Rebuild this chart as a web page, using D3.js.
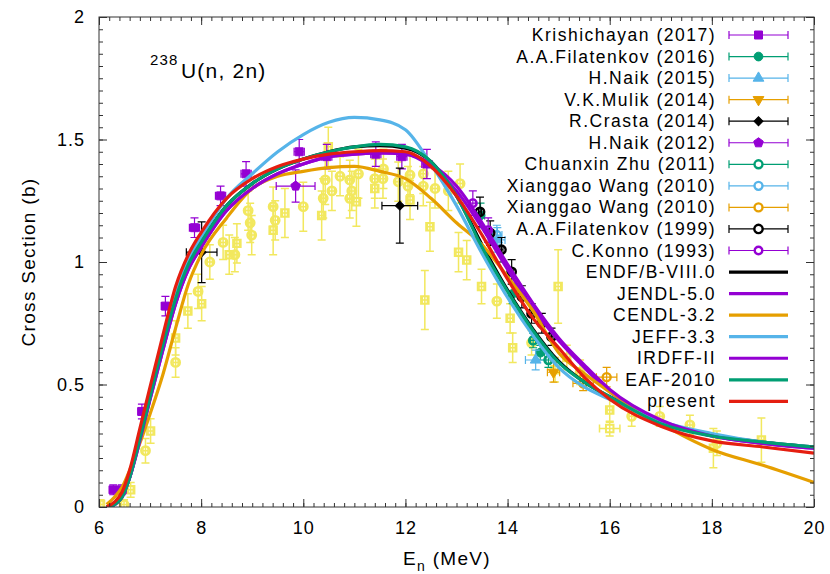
<!DOCTYPE html>
<html>

<head>
    <meta charset="utf-8">
    <style>
        body {
            margin: 0;
            background: #fff;
        }

        svg {
            display: block;
            font-family: 'Liberation Sans', Arial, Helvetica, sans-serif;
        }

        .tick text {
            font-size: 18px;
            fill: #000;
            letter-spacing: 1px;
        }

        .tick line {
            stroke: #333;
        }

        .legend-label {
            font-size: 17.5px;
            letter-spacing: 1.5px;
        }

        .axis-title {
            font-size: 19px;
            letter-spacing: 1.3px;
        }
    </style>
</head>

<body>
    <svg width="830" height="574"></svg>

    <script src="https://d3js.org/d3.v7.min.js"></script>
    <script>

        // evaluated curves, all on the same energy grid (MeV), cross section in barn
        let energyGrid = [6.15, 6.3, 6.45, 6.6, 6.8, 7.0, 7.25, 7.5, 7.75, 8, 8.5, 9, 9.5, 10, 10.5, 11, 11.5, 12, 12.5, 13, 13.5, 14, 14.5, 15, 15.5, 16, 17, 18, 19, 20]
        let endfB8 = [0, 0.01, 0.04, 0.12, 0.28, 0.45, 0.66, 0.85, 0.99, 1.08, 1.23, 1.32, 1.38, 1.42, 1.45, 1.47, 1.475, 1.465, 1.41, 1.27, 1.07, 0.885, 0.725, 0.595, 0.51, 0.45, 0.345, 0.295, 0.265, 0.245]
        let jendl5 = [0, 0.01, 0.04, 0.12, 0.27, 0.44, 0.64, 0.83, 0.97, 1.06, 1.21, 1.30, 1.36, 1.40, 1.43, 1.44, 1.445, 1.44, 1.39, 1.29, 1.14, 0.97, 0.81, 0.68, 0.57, 0.47, 0.35, 0.29, 0.26, 0.24]
        let cendl32 = [0.01, 0.04, 0.08, 0.15, 0.26, 0.38, 0.54, 0.73, 0.91, 1.03, 1.18, 1.30, 1.35, 1.37, 1.385, 1.39, 1.37, 1.34, 1.26, 1.16, 1.07, 0.94, 0.80, 0.63, 0.545, 0.47, 0.34, 0.235, 0.17, 0.10]
        let jeff33 = [0, 0.01, 0.04, 0.12, 0.28, 0.46, 0.67, 0.87, 1.01, 1.10, 1.26, 1.36, 1.45, 1.52, 1.57, 1.59, 1.58, 1.54, 1.40, 1.23, 1.035, 0.855, 0.70, 0.57, 0.49, 0.44, 0.35, 0.30, 0.265, 0.245]
        let irdff2 = [0, 0.01, 0.04, 0.12, 0.27, 0.44, 0.64, 0.83, 0.97, 1.06, 1.21, 1.30, 1.36, 1.40, 1.43, 1.44, 1.445, 1.44, 1.40, 1.31, 1.16, 0.99, 0.83, 0.69, 0.58, 0.48, 0.355, 0.29, 0.26, 0.24]
        let eaf2010 = [0, 0.01, 0.04, 0.12, 0.28, 0.45, 0.66, 0.85, 0.99, 1.08, 1.23, 1.32, 1.38, 1.42, 1.45, 1.47, 1.48, 1.47, 1.41, 1.27, 1.06, 0.88, 0.72, 0.59, 0.51, 0.45, 0.34, 0.29, 0.265, 0.245]
        let present = [0, 0.02, 0.06, 0.15, 0.32, 0.49, 0.70, 0.90, 1.03, 1.12, 1.26, 1.34, 1.39, 1.42, 1.44, 1.45, 1.455, 1.45, 1.39, 1.27, 1.11, 0.93, 0.77, 0.65, 0.53, 0.44, 0.33, 0.27, 0.245, 0.22]

        // measurements: [E, sigma, dE, dSigma]
        let krishichayan2017 = [[6.28, 0.07, 0.08, 0.02], [6.45, 0.07, 0.08, 0.02], [6.84, 0.39, 0.08, 0.03], [7.30, 0.82, 0.08, 0.04], [7.87, 1.14, 0.1, 0.04], [8.38, 1.27, 0.1, 0.04], [8.88, 1.36, 0.1, 0.05], [9.92, 1.45, 0.1, 0.05], [10.46, 1.43, 0.1, 0.05], [11.42, 1.44, 0.1, 0.05], [11.93, 1.43, 0.1, 0.05], [12.42, 1.40, 0.1, 0.06]]
        let filatenkov2016 = [[13.47, 1.19, 0.08, 0.05], [14.1, 0.87, 0.08, 0.04], [14.64, 0.63, 0.08, 0.03]]
        let naik2015 = [[13.8, 1.09, 0.15, 0.05], [14.55, 0.60, 0.2, 0.04]]
        let mulik2014 = [[14.9, 0.55, 0.12, 0.04]]
        let crasta2014 = [[8.01, 1.04, 0.30, 0.124], [11.89, 1.23, 0.35, 0.153]]
        let naik2012 = [[9.85, 1.31, 0.38, 0.066]]
        let zhu2011 = [[14.5, 0.68, 0.05, 0.03], [14.8, 0.60, 0.05, 0.03]]
        let wang2010a = [[13.79, 1.11, 0.1, 0.04]]
        let wang2010b = [[15.48, 0.505, 0.2, 0.03], [15.94, 0.53, 0.2, 0.04]]
        let filatenkov1999 = [[13.46, 1.205, 0.03, 0.06], [13.66, 1.118, 0.03, 0.05], [13.88, 1.05, 0.03, 0.05], [14.08, 0.96, 0.03, 0.05], [14.28, 0.858, 0.03, 0.045], [14.47, 0.79, 0.03, 0.04], [14.67, 0.75, 0.03, 0.04], [14.86, 0.695, 0.03, 0.035]]
        let konno1993 = [[13.32, 1.24, 0.05, 0.05], [13.62, 1.13, 0.05, 0.05]]

        // other EXFOR data shown in the background (no legend entry)
        let otherSquares = [[6.03, 0.01, 0.05, 0.02], [6.62, 0.07, 0.05, 0.03], [7.01, 0.31, 0.05, 0.05], [7.5, 0.69, 0.05, 0.07], [7.74, 0.80, 0.05, 0.07], [8.01, 0.83, 0.05, 0.07], [8.55, 1.03, 0.05, 0.08], [8.70, 1.076, 0.05, 0.08], [9.41, 1.13, 0.05, 0.1], [9.64, 1.20, 0.05, 0.1], [10.36, 1.19, 0.05, 0.1], [10.49, 1.47, 0.05, 0.08], [11.04, 1.246, 0.05, 0.1], [11.4, 1.30, 0.05, 0.08], [12.09, 1.253, 0.05, 0.08], [12.48, 1.144, 0.05, 0.1], [12.38, 0.845, 0.05, 0.12], [13.04, 1.04, 0.05, 0.08], [13.2, 1.008, 0.05, 0.08], [13.49, 0.90, 0.05, 0.07], [14.05, 0.77, 0.05, 0.06], [14.1, 0.65, 0.05, 0.06], [14.99, 0.90, 0.05, 0.15], [14.93, 0.56, 0.05, 0.05], [15.16, 0.61, 0.05, 0.05], [16.0, 0.396, 0.05, 0.05], [16.0, 0.32, 0.2, 0.03], [18.03, 0.24, 0.05, 0.08], [18.97, 0.273, 0.05, 0.09]]
        let otherCircles = [[6.49, 0.01, 0.05, 0.02], [6.91, 0.23, 0.05, 0.05], [7.5, 0.59, 0.05, 0.06], [7.94, 0.88, 0.05, 0.07], [8.17, 1.0, 0.05, 0.07], [8.43, 1.08, 0.05, 0.07], [8.66, 1.03, 0.05, 0.07], [8.92, 1.21, 0.05, 0.08], [8.96, 1.16, 0.05, 0.08], [8.99, 1.11, 0.05, 0.08], [9.41, 1.226, 0.05, 0.08], [9.45, 1.17, 0.05, 0.08], [10.0, 1.226, 0.05, 0.1], [10.43, 1.335, 0.05, 0.1], [10.56, 1.29, 0.05, 0.08], [10.39, 1.26, 0.05, 0.08], [10.72, 1.35, 0.05, 0.08], [10.91, 1.335, 0.05, 0.08], [10.95, 1.29, 0.05, 0.08], [10.91, 1.26, 0.05, 0.08], [11.08, 1.36, 0.05, 0.1], [11.4, 1.34, 0.05, 0.08], [11.57, 1.38, 0.05, 0.08], [11.56, 1.34, 0.05, 0.08], [11.86, 1.328, 0.05, 0.08], [12.09, 1.355, 0.05, 0.08], [12.05, 1.31, 0.05, 0.08], [12.35, 1.36, 0.05, 0.08], [12.35, 1.31, 0.05, 0.08], [12.58, 1.30, 0.05, 0.08], [12.84, 1.29, 0.05, 0.08], [13.07, 1.32, 0.05, 0.08], [13.79, 0.84, 0.05, 0.07], [14.47, 0.67, 0.05, 0.05], [15.42, 0.55, 0.05, 0.05], [16.43, 0.37, 0.05, 0.04], [16.98, 0.37, 0.05, 0.04], [17.57, 0.335, 0.05, 0.04], [18.1, 0.26, 0.05, 0.05]]

        let xTicks = [6, 8, 10, 12, 14, 16, 18, 20]
        let yTicks = [0, 0.5, 1, 1.5, 2]

        let svg = d3.select("svg")

        let margin = { top: 17, right: 16, bottom: 67, left: 99 }
        let width = 830, height = 574

        let x = d3.scaleLinear().domain([6, 20]).range([margin.left, width - margin.right])
        let y = d3.scaleLinear().domain([0, 2]).range([height - margin.bottom, margin.top])

        // gnuplot-like palette
        let purple = "#9400d3", green = "#009e73", blue = "#56b4e9", orange = "#e69f00", red = "#e51e10", yellow = "#f0e442"

        // pentagon marker (d3 has none)
        let symbolPentagon = {
            draw(ctx, size) {
                let r = Math.sqrt(size / 2.378)
                for (let i = 0; i < 5; i++) {
                    let a = -Math.PI / 2 + i * 2 * Math.PI / 5
                    if (i == 0) ctx.moveTo(r * Math.cos(a), r * Math.sin(a))
                    else ctx.lineTo(r * Math.cos(a), r * Math.sin(a))
                }
                ctx.closePath()
            }
        }

        let experiments = [
            { name: "Krishichayan (2017)", data: krishichayan2017, color: purple, type: d3.symbolSquare, size: 64, rot: 0, open: false },
            { name: "A.A.Filatenkov (2016)", data: filatenkov2016, color: green, type: d3.symbolCircle, size: 60, rot: 0, open: false },
            { name: "H.Naik (2015)", data: naik2015, color: blue, type: d3.symbolTriangle, size: 50, rot: 0, open: false },
            { name: "V.K.Mulik (2014)", data: mulik2014, color: orange, type: d3.symbolTriangle, size: 50, rot: 180, open: false },
            { name: "R.Crasta (2014)", data: crasta2014, color: "#000", type: d3.symbolSquare, size: 40, rot: 45, open: false },
            { name: "H.Naik (2012)", data: naik2012, color: purple, type: symbolPentagon, size: 60, rot: 0, open: false },
            { name: "Chuanxin Zhu (2011)", data: zhu2011, color: green, type: d3.symbolCircle, size: 50, rot: 0, open: true },
            { name: "Xianggao Wang (2010)", data: wang2010a, color: blue, type: d3.symbolCircle, size: 50, rot: 0, open: true },
            { name: "Xianggao Wang (2010)", data: wang2010b, color: orange, type: d3.symbolCircle, size: 50, rot: 0, open: true },
            { name: "A.A.Filatenkov (1999)", data: filatenkov1999, color: "#000", type: d3.symbolCircle, size: 55, rot: 0, open: true },
            { name: "C.Konno (1993)", data: konno1993, color: purple, type: d3.symbolCircle, size: 45, rot: 0, open: true }
        ]

        let evaluations = [
            { name: "ENDF/B-VIII.0", values: endfB8, color: "#000" },
            { name: "JENDL-5.0", values: jendl5, color: purple },
            { name: "CENDL-3.2", values: cendl32, color: orange },
            { name: "JEFF-3.3", values: jeff33, color: blue },
            { name: "IRDFF-II", values: irdff2, color: purple },
            { name: "EAF-2010", values: eaf2010, color: green },
            { name: "present", values: present, color: red }
        ]

        svg.append("clipPath").attr("id", "plot-clip")
            .append("rect")
            .attr("x", x(6)).attr("y", y(2))
            .attr("width", x(20) - x(6)).attr("height", y(0) - y(2))

        // error bar path with caps
        let cap = 4
        function errPath(d) {
            let [e, s, de, ds] = d
            let px = x(e), py = y(s)
            let p = `M${px},${y(s - ds)}V${y(s + ds)}M${px - cap},${y(s - ds)}h${2 * cap}M${px - cap},${y(s + ds)}h${2 * cap}`
            if (de > 0) {
                p += `M${x(e - de)},${py}H${x(e + de)}M${x(e - de)},${py - cap}v${2 * cap}M${x(e + de)},${py - cap}v${2 * cap}`
            }
            return p
        }

        let plot = svg.append("g").attr("clip-path", "url(#plot-clip)")

        // background data in yellow
        let others = plot.append("g").attr("opacity", 0.85)
        others.selectAll("path.err-sq")
            .data(otherSquares.concat(otherCircles))
            .join("path")
            .attr("class", "err-sq")
            .attr("d", errPath)
            .attr("fill", "none")
            .attr("stroke", yellow)
            .attr("stroke-width", 1.5)
        others.selectAll("path.sq")
            .data(otherSquares)
            .join("path")
            .attr("class", "sq")
            .attr("transform", d => `translate(${x(d[0])},${y(d[1])})`)
            .attr("d", d3.symbol(d3.symbolSquare, 56))
            .attr("fill", "none")
            .attr("stroke", yellow)
            .attr("stroke-width", 2)
        others.selectAll("path.ci")
            .data(otherCircles)
            .join("path")
            .attr("class", "ci")
            .attr("transform", d => `translate(${x(d[0])},${y(d[1])})`)
            .attr("d", d3.symbol(d3.symbolCircle, 56))
            .attr("fill", "none")
            .attr("stroke", yellow)
            .attr("stroke-width", 2.4)

        // legended measurements
        experiments.forEach(ex => {
            let g = plot.append("g")
            g.selectAll("path.err")
                .data(ex.data)
                .join("path")
                .attr("class", "err")
                .attr("d", errPath)
                .attr("fill", "none")
                .attr("stroke", ex.color)
                .attr("stroke-width", 1.2)
            g.selectAll("path.mark")
                .data(ex.data)
                .join("path")
                .attr("class", "mark")
                .attr("transform", d => `translate(${x(d[0])},${y(d[1])}) rotate(${ex.rot})`)
                .attr("d", d3.symbol(ex.type, ex.size))
                .attr("fill", ex.open ? "none" : ex.color)
                .attr("stroke", ex.color)
                .attr("stroke-width", ex.open ? 2.4 : 1)
        })

        // evaluated curves
        let line = d3.line()
            .x((d, i) => x(energyGrid[i]))
            .y(d => y(d))
            .curve(d3.curveMonotoneX)

        plot.selectAll("path.eval")
            .data(evaluations)
            .join("path")
            .attr("class", "eval")
            .attr("d", d => line(d.values))
            .attr("fill", "none")
            .attr("stroke", d => d.color)
            .attr("stroke-width", 3.2)
            .attr("stroke-linejoin", "round")

        // axes with inward ticks on all four sides
        let xMinor = d3.range(6, 20.01, 0.2)
        let yMinor = d3.range(0, 2.001, 0.05)

        svg.append("g").attr("transform", `translate(0,${y(0)})`)
            .call(d3.axisBottom(x).tickValues(xMinor).tickSize(-4).tickFormat(""))
            .call(g => g.select(".domain").remove())
        svg.append("g").attr("transform", `translate(0,${y(0)})`)
            .call(d3.axisBottom(x).tickValues(xTicks).tickSize(-8).tickPadding(14).tickFormat(d3.format("d")))
            .call(g => g.select(".domain").remove())
        svg.append("g").attr("transform", `translate(0,${y(2)})`)
            .call(d3.axisTop(x).tickValues(xMinor).tickSize(-4).tickFormat(""))
            .call(g => g.select(".domain").remove())
        svg.append("g").attr("transform", `translate(0,${y(2)})`)
            .call(d3.axisTop(x).tickValues(xTicks).tickSize(-8).tickFormat(""))
            .call(g => g.select(".domain").remove())

        svg.append("g").attr("transform", `translate(${x(6)},0)`)
            .call(d3.axisLeft(y).tickValues(yMinor).tickSize(-4).tickFormat(""))
            .call(g => g.select(".domain").remove())
        svg.append("g").attr("transform", `translate(${x(6)},0)`)
            .call(d3.axisLeft(y).tickValues(yTicks).tickSize(-8).tickPadding(14).tickFormat(d => d))
            .call(g => g.select(".domain").remove())
        svg.append("g").attr("transform", `translate(${x(20)},0)`)
            .call(d3.axisRight(y).tickValues(yMinor).tickSize(-4).tickFormat(""))
            .call(g => g.select(".domain").remove())
        svg.append("g").attr("transform", `translate(${x(20)},0)`)
            .call(d3.axisRight(y).tickValues(yTicks).tickSize(-8).tickFormat(""))
            .call(g => g.select(".domain").remove())

        svg.selectAll(".tick line").attr("stroke", "#333")

        // frame
        svg.append("rect")
            .attr("x", x(6)).attr("y", y(2))
            .attr("width", x(20) - x(6)).attr("height", y(0) - y(2))
            .attr("fill", "none")
            .attr("stroke", "#333")
            .attr("stroke-width", 1)

        // axis titles
        let xTitle = svg.append("text")
            .attr("class", "axis-title")
            .attr("x", 403)
            .attr("y", 565)
        xTitle.append("tspan").text("E")
        xTitle.append("tspan").attr("dy", 6).attr("font-size", 14).text("n")
        xTitle.append("tspan").attr("dy", -6).text(" (MeV)")

        svg.append("text")
            .attr("class", "axis-title")
            .attr("transform", `translate(35,${(y(0) + y(2)) / 2}) rotate(-90)`)
            .attr("text-anchor", "middle")
            .text("Cross Section (b)")

        // reaction label
        svg.append("text")
            .attr("x", 150).attr("y", 65)
            .attr("font-size", 15)
            .attr("letter-spacing", 1.2)
            .text("238")
        svg.append("text")
            .attr("x", 181).attr("y", 78)
            .attr("font-size", 21)
            .attr("letter-spacing", 1.2)
            .text("U(n, 2n)")

        // legend
        let legendTop = 35, legendStep = 21.55
        let lx0 = 729, lx1 = 788, lxm = (lx0 + lx1) / 2, textX = 716

        let legend = svg.append("g")
        experiments.forEach((ex, i) => {
            let ly = legendTop + i * legendStep
            legend.append("text").attr("class", "legend-label")
                .attr("x", textX).attr("y", ly + 6)
                .attr("text-anchor", "end")
                .text(ex.name)
            legend.append("path")
                .attr("d", `M${lx0},${ly}H${lx1}M${lx0},${ly - cap}v${2 * cap}M${lx1},${ly - cap}v${2 * cap}`)
                .attr("stroke", ex.color)
                .attr("stroke-width", 1.2)
                .attr("fill", "none")
            legend.append("path")
                .attr("transform", `translate(${lxm},${ly}) rotate(${ex.rot})`)
                .attr("d", d3.symbol(ex.type, ex.size))
                .attr("fill", ex.open ? "#fff" : ex.color)
                .attr("stroke", ex.color)
                .attr("stroke-width", ex.open ? 2.4 : 1)
        })
        evaluations.forEach((ev, j) => {
            let ly = legendTop + (experiments.length + j) * legendStep
            legend.append("text").attr("class", "legend-label")
                .attr("x", textX).attr("y", ly + 6)
                .attr("text-anchor", "end")
                .text(ev.name)
            legend.append("line")
                .attr("x1", lx0).attr("x2", lx1)
                .attr("y1", ly).attr("y2", ly)
                .attr("stroke", ev.color)
                .attr("stroke-width", 3.2)
        })

    </script>
</body>

</html>
